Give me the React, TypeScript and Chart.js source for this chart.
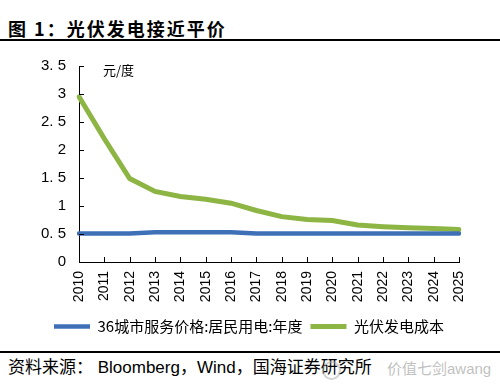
import React, { useEffect, useRef } from "react";
import { Chart, registerables } from "chart.js";

Chart.register(...registerables);

const years = ["2010","2011","2012","2013","2014","2015","2016","2017","2018","2019","2020","2021","2022","2023","2024","2025"];
const residentialPrice = [0.51,0.51,0.51,0.53,0.53,0.53,0.53,0.51,0.51,0.51,0.51,0.51,0.51,0.51,0.51,0.51];
const pvCost = [2.95,2.2,1.49,1.26,1.17,1.12,1.05,0.92,0.81,0.76,0.74,0.66,0.63,0.61,0.6,0.58];
const seriesNames = ["36城市服务价格:居民用电:年度", "光伏发电成本"];
const yTicks = [0, 0.5, 1, 1.5, 2, 2.5, 3, 3.5];

const BLUE = "#3E70B8";
const GREEN = "#8DB544";

const innerTicks = {
  id: "innerTicks",
  afterDraw(chart: any) {
    const { ctx, scales } = chart;
    const x = scales.x;
    const y = scales.y;
    ctx.save();
    ctx.strokeStyle = "#000";
    ctx.lineWidth = 1;
    ctx.beginPath();
    for (let i = 0; i < years.length; i++) {
      const px = Math.round(x.getPixelForValue(i)) + 0.5;
      ctx.moveTo(px, y.bottom);
      ctx.lineTo(px, y.bottom - 5);
    }
    for (const v of yTicks) {
      const py = Math.round(y.getPixelForValue(v)) + 0.5;
      ctx.moveTo(x.left, py);
      ctx.lineTo(x.left + 5, py);
    }
    ctx.stroke();
    ctx.restore();
  },
};

function ChartBox() {
  const ref = useRef<HTMLCanvasElement | null>(null);
  useEffect(() => {
    if (!ref.current) return;
    const chart = new Chart(ref.current, {
      type: "line",
      data: {
        labels: years,
        datasets: [
          {
            label: seriesNames[0],
            data: residentialPrice,
            borderColor: BLUE,
            backgroundColor: BLUE,
            borderWidth: 4.5,
            pointRadius: 0,
            borderCapStyle: "round",
            tension: 0,
          },
          {
            label: seriesNames[1],
            data: pvCost,
            borderColor: GREEN,
            backgroundColor: GREEN,
            borderWidth: 5,
            pointRadius: 0,
            borderCapStyle: "round",
            tension: 0,
          },
        ],
      },
      options: {
        animation: false,
        responsive: false,
        maintainAspectRatio: false,
        devicePixelRatio: 1,
        layout: { padding: { left: 39, right: 41, top: 66, bottom: 0 } },
        plugins: {
          tooltip: { enabled: false },
          legend: {
            position: "bottom",
            labels: {
              usePointStyle: true,
              pointStyle: "line",
              pointStyleWidth: 36,
              padding: 8,
              color: "#000",
              font: { family: "'Noto Sans CJK SC'", size: 15 },
            },
          },
        },
        scales: {
          x: {
            type: "category",
            offset: false,
            grid: { display: false, drawTicks: false },
            border: { display: true, color: "#000", width: 1 },
            ticks: {
              autoSkip: false,
              minRotation: 90,
              maxRotation: 90,
              padding: 9,
              color: "#000",
              font: { family: "'Liberation Sans'", size: 14 },
            },
            afterFit(scale: any) {
              scale.height = 49;
            },
          },
          y: {
            min: 0,
            max: 3.5,
            grid: { display: false, drawTicks: false },
            border: { display: true, color: "#000", width: 1 },
            ticks: {
              stepSize: 0.5,
              padding: 13,
              color: "#000",
              font: { family: "'Liberation Sans'", size: 15 },
              callback: (v: any) => String(v).replace(".", ". "),
            },
            afterFit(scale: any) {
              scale.width = 40;
            },
          },
        },
      },
      plugins: [innerTicks],
    });
    return () => chart.destroy();
  }, []);
  return <canvas ref={ref} width={500} height={344} style={{ position: "absolute", left: 0, top: 0, width: 500, height: 344 }} />;
}

export default function App() {
  return (
    <div style={{ position: "absolute", left: 0, top: 0, width: 500, height: 384, background: "#fff", overflow: "hidden" }}>
      <div style={{ position: "absolute", left: 8, top: 17, fontFamily: "'Noto Sans CJK SC'", fontWeight: 700, fontSize: 18, lineHeight: "22px", letterSpacing: 2, whiteSpace: "nowrap", color: "#000" }}>
        图 1：光伏发电接近平价
      </div>
      <div style={{ position: "absolute", left: 0, top: 39, width: 500, height: 2, background: "#000" }} />
      <ChartBox />
      <div style={{ position: "absolute", left: 103, top: 61, fontFamily: "'Noto Sans CJK SC'", fontSize: 13, lineHeight: "18px", color: "#000", whiteSpace: "nowrap" }}>
        元/度
      </div>
      <div style={{ position: "absolute", left: 0, top: 351, width: 500, height: 2, background: "#000" }} />
      <div style={{ position: "absolute", left: 8, top: 357, fontFamily: "'Liberation Sans', 'Noto Sans CJK SC'", fontSize: 17, lineHeight: "22px", color: "#000", whiteSpace: "nowrap" }}>
        资料来源： Bloomberg，Wind，国海证券研究所
      </div>
      <div style={{ position: "absolute", left: 322, top: 361, width: 15, height: 15, borderRadius: "50%", border: "2px solid rgba(170,170,170,0.5)" }} />
      <div style={{ position: "absolute", left: 387, top: 359, fontFamily: "'Liberation Sans', 'Noto Sans CJK SC'", fontSize: 15, lineHeight: "20px", color: "rgba(175,175,175,0.8)", whiteSpace: "nowrap" }}>
        价值七剑awang
      </div>
    </div>
  );
}
